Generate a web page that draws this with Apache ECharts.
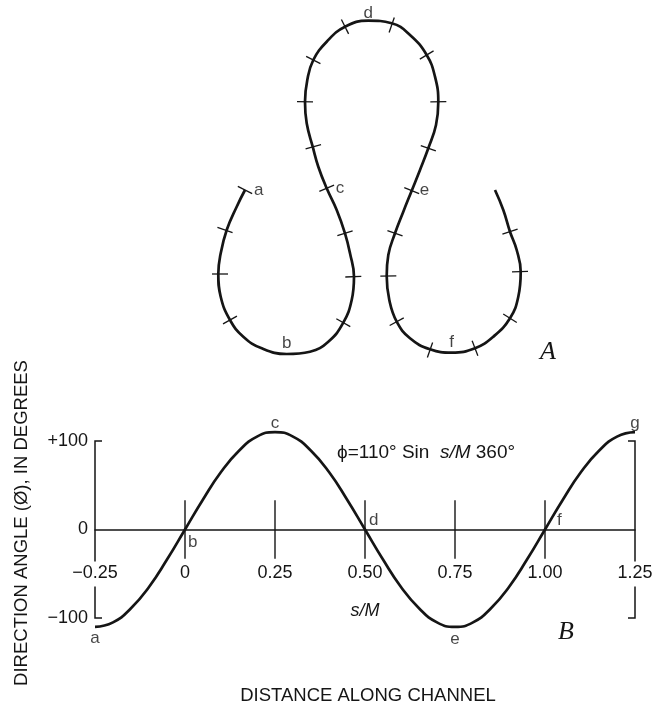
<!DOCTYPE html>
<html><head><meta charset="utf-8">
<script src="https://cdn.jsdelivr.net/npm/echarts/dist/echarts.min.js"></script>
<style>html,body{margin:0;padding:0;background:#fff}#c{width:668px;height:709px}</style>
</head><body><div id="c"></div>
<script>
// ---------- Panel B: direction angle vs s/M ----------
const sOverM   = [-0.25,-0.2,-0.15,-0.1,-0.05,0,0.05,0.1,0.15,0.2,0.25,0.3,0.35,0.4,0.45,0.5,0.55,0.6,0.65,0.7,0.75,0.8,0.85,0.9,0.95,1.0,1.05,1.1,1.15,1.2,1.25];
const angleDeg = [-110,-105,-89,-65,-34,0,34,65,89,105,110,105,89,65,34,0,-34,-65,-89,-105,-110,-105,-89,-65,-34,0,34,65,89,105,110];
const zeroTickS = [0,0.25,0.5,0.75,1.0];
const xTickLabels = ['\u22120.25','0','0.25','0.50','0.75','1.00','1.25'];
const yTickLabels = {'100':'+100','0':'0','-100':'\u2212100'};
const bracketS = [-0.25,1.25];
const pointNamesB = ['a','b','c','d','e','f','g'];
const pointSB     = [-0.25,0,0.25,0.5,0.75,1.0,1.25];
const pointAngleB = [-110,0,110,0,-110,0,110];

// ---------- Panel A: channel plan (map units) ----------
const pathX = [45,36.7,26.7,20.7,18.3,20.7,30,43.3,61.7,86.7,110,128.3,143.3,151.7,154,150,145,136.7,126.7,118.3,112.7,106.7,105,107.3,113.3,126.7,145,168.3,191.7,210,226.7,235,238.3,236,228.3,220,211.7,203.3,195,188.3,186.7,189.3,196.7,210,230,251.7,275,293.3,310,318.3,320.7,316.7,310,303.3,295];
const pathY = [190,206.7,230,253.3,274,296.7,320,336.7,348.3,354,351.7,341.7,322.7,300,276.7,253.3,233.3,210,188.3,166.7,146.7,123.3,101.7,80,60,41.7,26.7,20.7,23.3,35,55,76.7,101.7,125,148.3,170,190.7,211.7,233.3,255,276,300,321.7,338.3,349.3,352.7,348.3,336.7,318.3,296.7,271.7,250,231.7,210,190];
const crossTickX = [45,25,20,30,143.3,153.3,145,126.7,113.3,105,113.3,145,191.7,226.7,238.3,228.3,211.7,195,188.3,196.7,230,275,310,320,310];
const crossTickY = [190,230,274,320,322.7,276.7,233.3,188.3,146.7,101.7,60,26.7,25,55,101.7,148.3,190.7,233.3,276,321.7,350,348.3,318.3,271.7,231.7];
const pointNamesA = ['a','b','c','d','e','f'];
const pointAX = [45,86.7,126.7,168.3,211.7,251.7];
const pointAY = [190,354,188.3,20.7,190.7,352.7];

const INK = '#151515';
const SANS = '"Liberation Sans", Arial, sans-serif';
const SERIF = '"Liberation Serif", "Times New Roman", serif';

const labelStyleB = {
  a:{position:'bottom',distance:3}, b:{position:'right',offset:[0,13],distance:3},
  c:{position:'top',distance:0}, d:{position:'right',offset:[1,-9],distance:3},
  e:{position:'bottom',distance:4}, f:{position:'right',offset:[9,-9],distance:3},
  g:{position:'top',distance:0}
};
const labelStyleA = {
  a:{position:'right',distance:9}, b:{position:'top',distance:2}, c:{position:'right',distance:9},
  d:{position:'top',distance:-1}, e:{position:'right',distance:8}, f:{position:'top',distance:2}
};

function tickItemA(params, api){
  const x = api.value(0), y = api.value(1);
  let best = 0, bd = Infinity;
  for (let i=0;i<pathX.length;i++){
    const d=(pathX[i]-x)**2+(pathY[i]-y)**2; if(d<bd){bd=d;best=i;}
  }
  const i0=Math.max(0,best-1), i1=Math.min(pathX.length-1,best+1);
  const p0=api.coord([pathX[i0],pathY[i0]]), p1=api.coord([pathX[i1],pathY[i1]]);
  let tx=p1[0]-p0[0], ty=p1[1]-p0[1]; const L=Math.hypot(tx,ty)||1; tx/=L; ty/=L;
  const c=api.coord([x,y]); const h=8;
  return {type:'line', shape:{x1:c[0]-ty*h,y1:c[1]+tx*h,x2:c[0]+ty*h,y2:c[1]-tx*h},
          style:{stroke:INK,lineWidth:1.3}};
}
function zeroTickB(params, api){
  const s=api.value(0);
  const a=api.coord([s,33]), b=api.coord([s,-33]);
  return {type:'line', shape:{x1:a[0],y1:a[1],x2:b[0],y2:b[1]}, style:{stroke:INK,lineWidth:1.4}};
}
function bracketB(params, api){
  const s=api.value(0);
  const top=api.coord([s,100]), bot=api.coord([s,-100]), zero=api.coord([s,0]);
  const dir = params.dataIndex===0 ? 1 : -1, hook=7;
  const g1=zero[1]+32, g2=zero[1]+57;
  return {type:'group', children:[
    {type:'polyline', shape:{points:[[top[0]+dir*hook,top[1]],[top[0],top[1]],[top[0],g1]]}, style:{stroke:INK,lineWidth:1.5,fill:null}},
    {type:'polyline', shape:{points:[[bot[0],g2],[bot[0],bot[1]],[bot[0]+dir*hook,bot[1]]]}, style:{stroke:INK,lineWidth:1.5,fill:null}}
  ]};
}

const chart = echarts.init(document.getElementById('c'), null, {renderer:'canvas'});
chart.setOption({
  backgroundColor:'#fff',
  animation:false,
  textStyle:{fontFamily:SANS,color:INK},
  grid:[
    {left:200, top:0, width:340, height:370, containLabel:false, outerBoundsMode:'none'},
    {left:95, top:441, width:540, height:177, containLabel:false, outerBoundsMode:'none'}
  ],
  xAxis:[
    {gridIndex:0, type:'value', min:0, max:340, show:false},
    {gridIndex:1, type:'value', min:-0.25, max:1.25, interval:0.25, position:'bottom', offset:-88.5,
     axisLine:{show:true, onZero:false, lineStyle:{color:INK,width:1.5}},
     axisTick:{show:false}, splitLine:{show:false},
     axisLabel:{margin:35, fontSize:18, color:INK, fontFamily:SANS, showMinLabel:true, showMaxLabel:true,
       formatter:v=>xTickLabels[Math.round((v+0.25)/0.25)]},
     name:'s/M', nameLocation:'middle', nameGap:72,
     nameTextStyle:{fontSize:18, fontStyle:'italic', color:INK, fontFamily:SANS}}
  ],
  yAxis:[
    {gridIndex:0, type:'value', min:0, max:370, inverse:true, show:false},
    {gridIndex:1, type:'value', min:-100, max:100, interval:100,
     axisLine:{show:false}, axisTick:{show:false}, splitLine:{show:false},
     axisLabel:{margin:7, fontSize:18, color:INK, fontFamily:SANS, formatter:v=>yTickLabels[String(v)]}}
  ],
  series:[
    {type:'line', xAxisIndex:0, yAxisIndex:0, data:pathX.map((x,i)=>[x,pathY[i]]),
     smooth:0.45, showSymbol:false, symbol:'none', clip:false,
     lineStyle:{color:INK,width:2.7}, z:3},
    {type:'custom', xAxisIndex:0, yAxisIndex:0, data:crossTickX.map((x,i)=>[x,crossTickY[i]]),
     renderItem:tickItemA, clip:false, z:4},
    {type:'scatter', xAxisIndex:0, yAxisIndex:0, symbolSize:0, clip:false,
     data:pointNamesA.map((n,i)=>({name:n, value:[pointAX[i],pointAY[i]],
       label:Object.assign({show:true, formatter:n, fontSize:17, color:INK, fontFamily:SANS}, labelStyleA[n])})), z:5},
    {type:'line', xAxisIndex:1, yAxisIndex:1, data:sOverM.map((s,i)=>[s,angleDeg[i]]),
     smooth:true, showSymbol:false, symbol:'none', clip:false,
     lineStyle:{color:INK,width:2.7}, z:3},
    {type:'custom', xAxisIndex:1, yAxisIndex:1, data:zeroTickS.map(s=>[s,0]), renderItem:zeroTickB, clip:false, z:2},
    {type:'custom', xAxisIndex:1, yAxisIndex:1, data:bracketS.map(s=>[s,0]), renderItem:bracketB, clip:false, z:2},
    {type:'scatter', xAxisIndex:1, yAxisIndex:1, symbolSize:0, clip:false,
     data:pointNamesB.map((n,i)=>({name:n, value:[pointSB[i],pointAngleB[i]],
       label:Object.assign({show:true, formatter:n, fontSize:17, color:INK, fontFamily:SANS}, labelStyleB[n])})), z:5}
  ],
  graphic:[
    {type:'text', x:548, y:352, style:{text:'A', font:'italic 26px '+SERIF, fill:INK, align:'center', verticalAlign:'middle'}},
    {type:'text', x:566, y:632, style:{text:'B', font:'italic 26px '+SERIF, fill:INK, align:'center', verticalAlign:'middle'}},
    {type:'text', x:337, y:453, style:{
      text:'{p|\u03D5}{n|=110\u00B0 Sin  }{i|s/M}{n| 360\u00B0}', verticalAlign:'middle', align:'left',
      rich:{p:{fontSize:19,fontFamily:SANS,fill:INK}, n:{fontSize:19,fontFamily:SANS,fill:INK},
            i:{fontSize:19,fontStyle:'italic',fontFamily:SANS,fill:INK}}}},
    {type:'text', x:22, y:523, rotation:Math.PI/2, style:{text:'DIRECTION ANGLE (\u00D8), IN DEGREES',
      font:'18.5px '+SANS, fill:INK, align:'center', verticalAlign:'middle'}},
    {type:'text', x:368, y:696, style:{text:'DISTANCE ALONG CHANNEL', font:'18.5px '+SANS, fill:INK, align:'center', verticalAlign:'middle'}}
  ]
});
</script>
</body></html>
